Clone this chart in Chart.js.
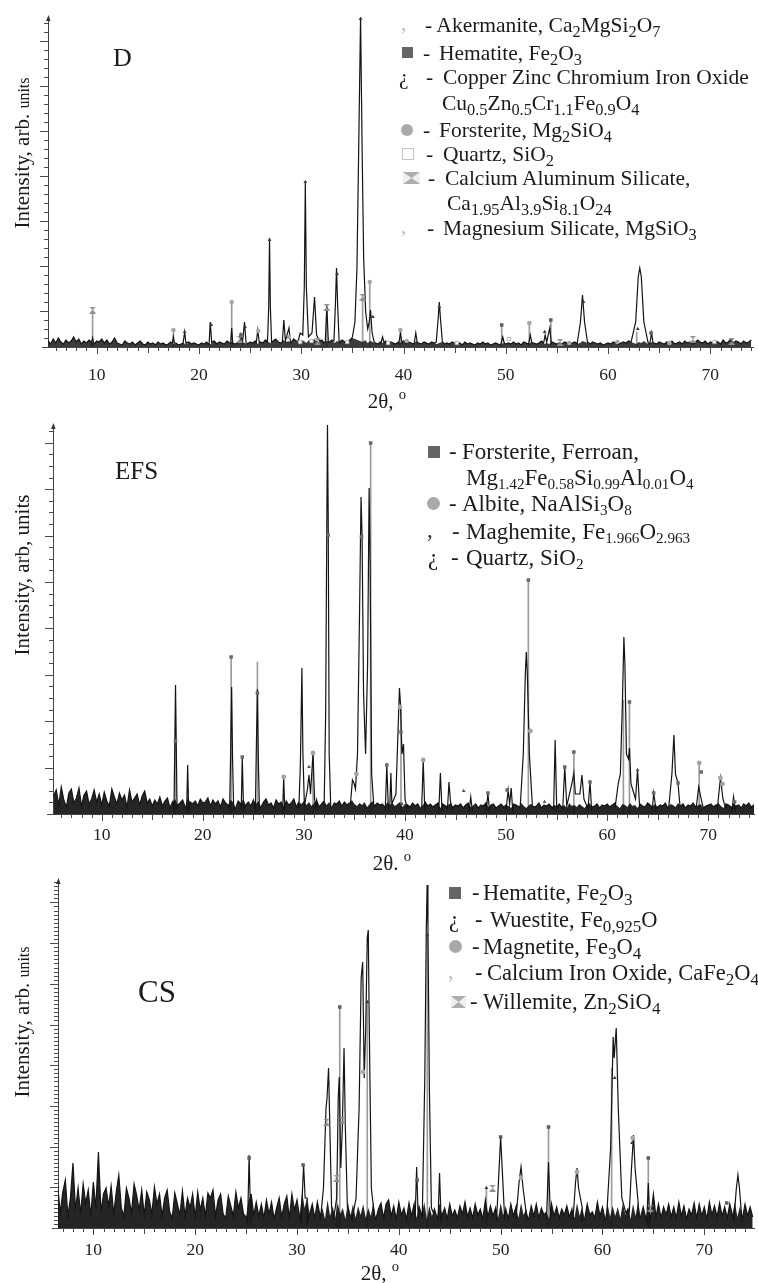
<!DOCTYPE html>
<html>
<head>
<meta charset="utf-8">
<script src="https://cdn.jsdelivr.net/npm/chart.js@4.4.1/dist/chart.umd.min.js"></script>
<style>
body { margin: 0; background: #fff; }
#page { position: relative; width: 758px; height: 1283px; overflow: hidden; font-family: "Liberation Serif", "Times New Roman", serif; color: #1b1b1b; }
canvas { position: absolute; left: 0; }
.r { position: absolute; height: 26px; line-height: 26px; white-space: nowrap; font-size: 21.5px; }
.efs .r { font-size: 23px; }
.cs .r { font-size: 22.5px; }
sub { font-size: 0.76em; vertical-align: -0.28em; line-height: 0; }
.efs sub { font-size: 0.66em; }
sup { font-size: 0.7em; vertical-align: 0.55em; line-height: 0; }
.sq { position: absolute; width: 11px; height: 11px; background: #656565; }
.ci { position: absolute; width: 12px; height: 12px; border-radius: 50%; background: #a9a9a9; }
.os { position: absolute; width: 10px; height: 10px; border: 1px solid #c4c4c4; }
.cm { color: #bdbdbd; }
.lbl { position: absolute; white-space: nowrap; line-height: 1; }
.yt { position: absolute; white-space: nowrap; font-size: 21px; line-height: 1; transform: translate(-50%, -50%) rotate(-90deg); }
.xt { position: absolute; white-space: nowrap; font-size: 21px; line-height: 1; transform: translate(-50%, -50%); }
</style>
</head>
<body>
<div id="page">
  <canvas id="cD" width="758" height="385" style="top:0px"></canvas>
  <canvas id="cE" width="758" height="445" style="top:410px"></canvas>
  <canvas id="cC" width="758" height="417" style="top:866px"></canvas>

  <!-- panel D -->
  <div class="lbl" style="left:113px;top:45px;font-size:26px">D</div>
  <div class="yt" style="left:22px;top:153px">Intensity, arb. <span style="font-size:16px">units</span></div>
  <div class="xt" style="left:387px;top:401px">2θ, <sup>o</sup></div>
  <div class="r cm" style="left:401px;top:10px">,</div>
  <div class="r" style="left:425px;top:12px">- Akermanite, Ca<sub>2</sub>MgSi<sub>2</sub>O<sub>7</sub></div>
  <div class="sq" style="left:402px;top:47px"></div>
  <div class="r" style="left:423px;top:40px">-</div>
  <div class="r" style="left:439px;top:40px">Hematite, Fe<sub>2</sub>O<sub>3</sub></div>
  <div class="r" style="left:399px;top:64px">¿</div>
  <div class="r" style="left:426px;top:64px">-</div>
  <div class="r" style="left:443px;top:64px">Copper Zinc Chromium Iron Oxide</div>
  <div class="r" style="left:442px;top:90px">Cu<sub>0.5</sub>Zn<sub>0.5</sub>Cr<sub>1.1</sub>Fe<sub>0.9</sub>O<sub>4</sub></div>
  <div class="ci" style="left:401px;top:124px"></div>
  <div class="r" style="left:423px;top:117px">-</div>
  <div class="r" style="left:439px;top:117px">Forsterite, Mg<sub>2</sub>SiO<sub>4</sub></div>
  <div class="os" style="left:402px;top:148px"></div>
  <div class="r" style="left:426px;top:141px">-</div>
  <div class="r" style="left:443px;top:141px">Quartz, SiO<sub>2</sub></div>
  <svg style="position:absolute;left:403px;top:172px" width="17" height="12"><path d="M0 0H17L8.5 6ZM0 12H17L8.5 6Z" fill="#9a9a9a"/><rect x="0" y="0" width="17" height="12" fill="#d0d0d0" opacity="0.35"/></svg>
  <div class="r" style="left:428px;top:165px">-</div>
  <div class="r" style="left:445px;top:165px">Calcium Aluminum Silicate,</div>
  <div class="r" style="left:447px;top:190px">Ca<sub>1.95</sub>Al<sub>3.9</sub>Si<sub>8.1</sub>O<sub>24</sub></div>
  <div class="r cm" style="left:401px;top:213px">,</div>
  <div class="r" style="left:427px;top:215px">-</div>
  <div class="r" style="left:443px;top:215px">Magnesium Silicate, MgSiO<sub>3</sub></div>

  <!-- panel EFS -->
  <div class="lbl" style="left:115px;top:458px;font-size:25px">EFS</div>
  <div class="yt" style="left:22px;top:575px">Intensity, arb, units</div>
  <div class="xt" style="left:392px;top:863px">2θ. <sup>o</sup></div>
  <div class="efs">
    <div class="sq" style="left:428px;top:446px;width:12px;height:12px"></div>
    <div class="r" style="left:449px;top:439px">-</div>
    <div class="r" style="left:462px;top:439px">Forsterite, Ferroan,</div>
    <div class="r" style="left:466px;top:465px">Mg<sub>1.42</sub>Fe<sub>0.58</sub>Si<sub>0.99</sub>Al<sub>0.01</sub>O<sub>4</sub></div>
    <div class="ci" style="left:427px;top:497px;width:13px;height:13px"></div>
    <div class="r" style="left:449px;top:491px">-</div>
    <div class="r" style="left:462px;top:491px">Albite, NaAlSi<sub>3</sub>O<sub>8</sub></div>
    <div class="r" style="left:427px;top:517px;color:#333">,</div>
    <div class="r" style="left:452px;top:519px">-</div>
    <div class="r" style="left:466px;top:519px">Maghemite, Fe<sub>1.966</sub>O<sub>2.963</sub></div>
    <div class="r" style="left:428px;top:545px">¿</div>
    <div class="r" style="left:451px;top:545px">-</div>
    <div class="r" style="left:466px;top:545px">Quartz, SiO<sub>2</sub></div>
  </div>

  <!-- panel CS -->
  <div class="lbl" style="left:138px;top:976px;font-size:31px">CS</div>
  <div class="yt" style="left:22px;top:1022px">Intensity, arb. <span style="font-size:16px">units</span></div>
  <div class="xt" style="left:380px;top:1273px">2θ, <sup>o</sup></div>
  <div class="cs">
    <div class="sq" style="left:449px;top:887px;width:12px;height:12px"></div>
    <div class="r" style="left:472px;top:880px">-</div>
    <div class="r" style="left:483px;top:880px">Hematite, Fe<sub>2</sub>O<sub>3</sub></div>
    <div class="r" style="left:449px;top:907px">¿</div>
    <div class="r" style="left:475px;top:907px">-</div>
    <div class="r" style="left:490px;top:907px">Wuestite, Fe<sub>0,925</sub>O</div>
    <div class="ci" style="left:449px;top:940px;width:13px;height:13px"></div>
    <div class="r" style="left:472px;top:934px">-</div>
    <div class="r" style="left:483px;top:934px">Magnetite, Fe<sub>3</sub>O<sub>4</sub></div>
    <div class="r cm" style="left:448px;top:958px">,</div>
    <div class="r" style="left:475px;top:960px">-</div>
    <div class="r" style="left:487px;top:960px">Calcium Iron Oxide, CaFe<sub>2</sub>O<sub>4</sub></div>
    <svg style="position:absolute;left:451px;top:996px" width="15" height="12"><path d="M0 0H15L7.5 6ZM0 12H15L7.5 6Z" fill="#9a9a9a"/><rect x="0" y="0" width="15" height="12" fill="#d0d0d0" opacity="0.35"/></svg>
    <div class="r" style="left:470px;top:989px">-</div>
    <div class="r" style="left:483px;top:989px">Willemite, Zn<sub>2</sub>SiO<sub>4</sub></div>
  </div>
</div>

<script>
// x tick labels shared by all three patterns
const tickLabels = [10, 20, 30, 40, 50, 60, 70];

// ---------- D ----------
const dNoiseStart = 5.25;
const dNoise = [
  6,3,8,4,9,5,3,7,4,6,10,5,8,3,6,4,7,5,3,6,
  5,8,4,7,3,5,9,4,3,2,6,4,3,5,2,4,6,3,2,5,
  3,4,2,5,3,4,2,3,5,3,4,2,3,4,2,5,3,4,3,2,
  4,3,5,2,4,6,3,5,4,3,6,4,5,3,4,6,5,4,3,5,
  4,6,3,5,4,7,5,4,6,8,5,4,7,5,6,4,8,6,5,7,
  6,4,7,5,8,6,5,7,4,6,5,7,4,6,5,7,5,6,8,9,
  8,7,6,5,7,4,6,5,4,3,5,4,6,3,5,4,3,5,4,6,
  3,5,4,3,6,4,3,5,4,3,5,4,3,4,5,3,4,3,5,4,
  3,4,2,5,3,4,3,2,4,3,5,3,4,2,3,4,3,2,4,3,
  4,3,5,3,4,2,5,4,3,5,4,3,4,6,3,4,3,5,4,3,
  4,3,5,4,3,4,5,3,4,6,5,4,3,5,4,3,4,2,3,4,
  3,5,4,3,4,5,4,6,5,4,3,5,4,6,4,3,5,4,3,5,
  4,3,5,4,6,3,4,5,3,6,4,5,3,4,7,5,4,6,3,5,
  4,6,5,3,7,4,5,8,4,6,5,3,6,4,5,7
];
const dPeaks = [
  [[9.5,4],[9.6,9],[9.7,4]],
  [[17.4,4],[17.5,10],[17.6,4]],
  [[18.45,4],[18.6,15],[18.75,4]],
  [[21.0,4],[21.1,25],[21.25,5]],
  [[23.1,4],[23.2,19],[23.3,4]],
  [[24.0,4],[24.1,12],[24.25,4],[24.45,25],[24.6,5]],
  [[25.6,4],[25.75,17],[25.9,4]],
  [[26.7,5],[26.82,40],[26.9,109],[26.98,40],[27.1,5]],
  [[28.15,5],[28.3,27],[28.45,6],[28.8,19],[28.95,5]],
  [[29.7,6],[29.9,14],[30.15,12],[30.3,60],[30.4,165],[30.5,60],[30.7,10],[31.05,14],[31.3,50],[31.5,12],[31.8,6]],
  [[32.35,5],[32.5,41],[32.65,5]],
  [[33.2,6],[33.35,45],[33.45,79],[33.55,45],[33.7,6]],
  [[34.7,5],[35.0,10],[35.25,25],[35.45,80],[35.62,200],[35.8,330],[35.95,200],[36.1,90],[36.3,35],[36.5,18],[36.65,25],[36.78,37],[36.92,15],[37.1,6]],
  [[37.8,4],[37.95,10],[38.1,4]],
  [[39.55,4],[39.7,14],[39.85,4]],
  [[41.05,4],[41.2,14],[41.35,4]],
  [[43.2,5],[43.4,30],[43.5,45],[43.6,30],[43.8,5]],
  [[49.55,4],[49.7,10],[49.85,4]],
  [[52.25,4],[52.4,12],[52.55,4]],
  [[53.7,4],[53.85,12],[54.0,5],[54.3,19],[54.45,4]],
  [[57.0,5],[57.3,25],[57.5,52],[57.7,25],[58.0,5]],
  [[62.3,5],[62.7,25],[62.95,70],[63.1,79],[63.25,70],[63.5,25],[63.9,5]],
  [[64.1,4],[64.25,14],[64.4,4]]
];
const dStickX = [9.6, 17.5, 23.2, 32.5, 36.0, 36.7, 39.7, 49.6, 52.3, 54.4, 62.8];
const dStickY = [37, 17, 45, 40, 50, 65, 17, 22, 24, 27, 15];
const dHemX = [24.1, 49.6, 54.4, 64.2];
const dHemY = [12, 22, 27, 14];
const dCuX = [18.6, 21.2, 24.5, 26.9, 30.4, 33.5, 35.8, 37.0, 43.5, 53.8, 57.6, 62.9];
const dCuY = [15, 22, 20, 107, 165, 73, 328, 30, 40, 15, 45, 18];
const dForX = [17.5, 23.2, 25.8, 28.8, 36.7, 39.7, 40.3, 52.3, 56.2, 60.9, 66.0];
const dForY = [17, 45, 16, 10, 65, 17, 6, 24, 4, 5, 4];
const dQtzX = [29.9, 31.0, 34.5, 38.5, 45.2, 50.3, 70.4];
const dQtzY = [5, 6, 5, 4, 4, 8, 5];
const dCaAlX = [9.6, 24.0, 31.6, 32.5, 36.0, 55.3, 68.3, 72.1];
const dCaAlY = [37, 8, 6, 40, 50, 5, 8, 6];

// ---------- EFS ----------
const eNoiseStart = 5.25;
const eNoise = [
  18,24,9,27,14,7,21,25,11,16,26,8,19,23,10,15,24,12,20,9,
  22,13,8,25,17,10,21,14,19,7,24,12,16,20,9,18,23,11,15,8,
  14,10,17,8,13,16,6,12,15,9,11,14,7,16,12,10,13,8,15,11,
  12,16,8,14,10,13,7,15,11,9,14,12,6,13,10,15,9,12,8,14,
  10,13,7,12,15,9,11,6,14,10,12,8,13,9,11,15,7,12,10,13,
  9,12,8,11,14,7,10,13,9,12,6,11,10,13,8,12,9,11,14,10,
  8,11,9,12,7,10,13,8,11,9,10,7,12,9,11,8,10,12,7,10,
  9,7,11,8,10,6,9,12,8,10,7,9,11,6,10,8,9,11,7,9,
  8,10,6,9,11,7,8,10,6,9,8,11,7,9,10,6,8,10,7,9,
  8,6,10,9,7,11,8,6,9,10,7,8,11,6,9,8,10,7,9,8,
  10,7,9,6,11,8,9,7,10,8,6,9,11,7,8,10,6,9,8,10,
  7,9,11,8,6,10,9,7,11,8,9,6,10,8,7,11,9,8,10,7,
  9,8,11,6,10,9,7,11,8,10,6,9,8,11,7,9,10,6,8,9,
  10,7,9,11,8,6,10,9,7,11,8,9,6,10,8,11,7,9,8,10
];
const ePeaks = [
  [[17.15,5],[17.3,129],[17.45,5]],
  [[18.4,4],[18.5,49],[18.6,4]],
  [[22.65,5],[22.75,60],[22.85,127],[22.95,50],[23.05,5]],
  [[23.8,4],[23.9,57],[24.0,4]],
  [[25.2,5],[25.3,70],[25.4,125],[25.5,50],[25.6,5]],
  [[27.9,4],[28.0,37],[28.1,4]],
  [[29.5,6],[29.65,50],[29.8,146],[29.9,60],[30.05,8],[30.35,25],[30.5,39],[30.65,20],[30.9,61],[31.05,15],[31.2,5]],
  [[32.0,8],[32.15,100],[32.27,300],[32.33,389],[32.4,300],[32.5,60],[32.65,8]],
  [[34.6,10],[34.8,34],[34.95,31],[35.1,25],[35.3,60],[35.5,200],[35.65,317],[35.75,280],[35.9,120],[36.1,60],[36.3,150],[36.45,326],[36.55,250],[36.7,40],[36.9,10]],
  [[38.05,5],[38.2,49],[38.35,5],[38.5,10],[38.6,41],[38.7,10],[39.1,20],[39.3,80],[39.45,126],[39.55,110],[39.7,60],[39.85,70],[40.0,15],[40.2,6]],
  [[41.65,5],[41.8,54],[41.95,5]],
  [[43.35,5],[43.5,41],[43.65,5]],
  [[44.2,5],[44.35,32],[44.5,12],[44.7,5]],
  [[46.35,4],[46.5,17],[46.65,4]],
  [[48.05,4],[48.2,21],[48.35,4]],
  [[50.0,4],[50.2,24],[50.35,10],[50.5,26],[50.65,4]],
  [[51.4,8],[51.7,60],[51.9,140],[52.0,162],[52.1,140],[52.3,60],[52.6,8]],
  [[54.7,5],[54.85,74],[55.0,5]],
  [[55.6,5],[55.8,47],[56.0,8],[56.5,30],[56.7,41],[56.85,20],[57.3,20],[57.5,39],[57.7,15],[58.1,5],[58.3,32],[58.45,5]],
  [[60.8,8],[61.1,31],[61.3,40],[61.5,110],[61.65,177],[61.75,150],[61.9,60],[62.1,55],[62.2,66],[62.35,30],[62.8,15],[63.0,44],[63.2,8]],
  [[64.45,4],[64.6,21],[64.75,4]],
  [[66.1,8],[66.4,40],[66.6,79],[66.75,40],[67.0,31],[67.2,8]],
  [[68.8,6],[69.05,27],[69.3,15],[69.5,6]],
  [[70.9,6],[71.2,36],[71.45,15],[71.7,6]],
  [[72.35,4],[72.5,17],[72.65,4]]
];
const eStickX = [17.3, 22.8, 25.4, 30.9, 36.6, 39.6, 52.2, 56.7, 61.6, 62.2, 69.1];
const eStickY = [73, 157, 152, 61, 371, 107, 234, 62, 114, 112, 51];
const eForX = [17.3, 22.8, 23.9, 25.4, 32.4, 35.7, 36.6, 38.2, 39.6, 48.2, 50.1, 52.2, 55.8, 56.7, 58.3, 62.2, 64.6, 67.0, 69.3, 72.6];
const eForY = [73, 157, 57, 121, 279, 277, 371, 49, 82, 21, 24, 234, 47, 62, 32, 112, 21, 31, 42, 12];
const eAlbX = [28.0, 30.9, 35.2, 39.5, 41.8, 52.4, 69.1, 71.2, 71.4];
const eAlbY = [37, 61, 40, 107, 54, 83, 51, 36, 30];
const eQtzX = [30.5, 39.7, 45.8, 53.8, 63.0];
const eQtzY = [47, 10, 23, 12, 44];

// ---------- CS ----------
const cNoiseStart = 6.5;
const cNoise = [
  42,15,36,48,12,30,65,18,40,14,44,25,38,12,46,20,76,16,34,40,
  22,42,14,36,53,20,12,40,30,15,44,33,18,38,13,36,28,14,41,24,
  34,12,30,38,16,10,35,24,13,37,12,30,20,34,11,36,18,30,12,35,
  30,38,12,28,34,14,10,32,22,12,36,20,30,14,11,28,34,13,26,12,
  24,10,28,14,26,9,20,30,11,24,32,10,34,18,28,12,36,20,30,14,
  24,10,26,13,20,9,28,12,22,10,25,14,20,9,26,12,24,10,22,13,
  24,10,20,12,26,9,19,25,10,24,28,12,22,9,26,13,20,9,25,12,
  24,10,21,13,26,9,22,12,19,10,25,13,20,9,24,12,18,10,22,14,
  26,11,20,10,24,13,19,9,28,11,22,12,20,10,25,13,19,9,24,12,
  21,10,25,13,19,9,22,12,24,10,20,13,16,9,24,12,21,10,19,13,
  22,11,19,10,25,12,21,9,24,13,16,10,26,12,21,9,24,11,22,12,
  21,10,25,13,19,9,24,12,26,11,21,10,22,12,34,11,24,10,21,13,
  24,11,21,10,26,12,22,9,19,13,25,10,24,12,21,9,26,13,22,11,
  25,12,21,10,24,13,26,11,22,10,24,12,21,11
];
const cPeaks = [
  [[25.15,5],[25.3,73],[25.45,5]],
  [[30.4,5],[30.55,40],[30.65,63],[30.8,30],[31.0,5]],
  [[32.3,8],[32.6,40],[32.85,120],[32.95,130],[33.1,160],[33.25,90],[33.4,20],[33.6,10],[33.9,30],[34.05,130],[34.15,151],[34.3,60],[34.45,100],[34.62,180],[34.75,100],[34.95,20],[35.4,8],[35.8,30],[36.1,120],[36.3,250],[36.45,266],[36.6,150],[36.75,200],[36.9,290],[37.0,298],[37.1,200],[37.3,40],[37.6,12]],
  [[41.6,8],[41.75,61],[41.9,10]],
  [[42.3,10],[42.55,150],[42.7,300],[42.78,343],[42.86,300],[43.0,140],[43.2,20],[43.4,15]],
  [[43.85,8],[44.0,55],[44.15,8]],
  [[49.6,8],[49.85,60],[50.0,91],[50.15,60],[50.4,8]],
  [[51.5,8],[51.8,45],[52.0,61],[52.2,40],[52.6,8]],
  [[54.5,8],[54.7,66],[54.9,8]],
  [[57.1,8],[57.35,45],[57.5,60],[57.65,40],[58.0,8]],
  [[60.4,10],[60.8,80],[61.05,191],[61.15,170],[61.35,200],[61.55,120],[61.9,30],[62.3,15]],
  [[62.6,10],[62.85,60],[63.05,93],[63.2,60],[63.5,12]],
  [[64.35,6],[64.5,45],[64.65,6]],
  [[72.9,8],[73.15,40],[73.3,53],[73.45,40],[73.7,8]]
];
const cStickX = [33.9, 34.2, 36.9, 42.8, 48.6, 54.7, 60.9, 64.5];
const cStickY = [50, 221, 226, 293, 40, 101, 160, 70];
const cHemX = [25.3, 30.6, 34.2, 41.8, 50.0, 54.7, 64.5, 72.2];
const cHemY = [70, 63, 221, 48, 91, 101, 70, 25];
const cWueX = [36.9, 42.8, 48.6, 61.2, 62.9];
const cWueY = [226, 293, 40, 150, 85];
const cMagX = [36.5, 52.0, 57.5, 62.95];
const cMagY = [156, 50, 56, 90];
const cWilX = [32.9, 33.9, 34.5, 49.2, 64.7];
const cWilY = [106, 50, 108, 40, 20];

const NOISE_STEP = 0.25;

const noisePoints = (start, noise) => noise.map((v, i) => ({ x: start + i * NOISE_STEP, y: v }));

// measured profile: noise outside the peak windows plus the peak outlines
function buildProfile(start, noise, peaks) {
  const pts = noisePoints(start, noise).filter(pt =>
    !peaks.some(p => pt.x > p[0][0] && pt.x < p[p.length - 1][0]));
  peaks.forEach(p => p.forEach(([x, y]) => pts.push({ x: x, y: y })));
  return pts.sort((a, b) => a.x - b.x);
}

const pairs = (xs, ys) => xs.map((x, i) => ({ x: x, y: ys[i] }));

function hourglass(color) {
  const c = document.createElement('canvas');
  c.width = 7; c.height = 7;
  const g = c.getContext('2d');
  g.fillStyle = color;
  g.beginPath(); g.moveTo(0, 0); g.lineTo(7, 0); g.lineTo(3.5, 3.5); g.closePath(); g.fill();
  g.beginPath(); g.moveTo(0, 7); g.lineTo(7, 7); g.lineTo(3.5, 3.5); g.closePath(); g.fill();
  return c;
}

// minor/major ticks of both axes and the little arrow on top of the y axis
const axisTicks = {
  id: 'axisTicks',
  afterDraw(chart, args, opts) {
    const { ctx, chartArea: a, scales: { x, y } } = chart;
    ctx.save();
    ctx.strokeStyle = '#4a4a4a';
    ctx.lineWidth = 1;
    ctx.beginPath();
    for (let v = Math.ceil(x.min); v <= x.max; v++) {
      const px = Math.round(x.getPixelForValue(v)) + 0.5;
      const len = v % 10 === 0 ? 7 : (v % 5 === 0 ? 6 : 4);
      ctx.moveTo(px, a.bottom);
      ctx.lineTo(px, a.bottom + len);
    }
    for (let i = 1; i * opts.step <= y.max; i++) {
      const py = Math.round(y.getPixelForValue(i * opts.step)) + 0.5;
      const len = i % opts.every === opts.offset ? 8 : 4;
      ctx.moveTo(a.left - len, py);
      ctx.lineTo(a.left, py);
    }
    ctx.moveTo(a.left - 6, a.bottom + 0.5);
    ctx.lineTo(a.left, a.bottom + 0.5);
    ctx.stroke();
    ctx.fillStyle = '#333';
    ctx.beginPath();
    ctx.moveTo(a.left - 2, a.top + 4);
    ctx.lineTo(a.left + 2.5, a.top + 4);
    ctx.lineTo(a.left + 0.5, a.top - 2);
    ctx.closePath();
    ctx.fill();
    ctx.restore();
  }
};

function makeChart(id, p) {
  const datasets = p.marks.map(m => ({
    type: 'scatter',
    data: pairs(m.x, m.y),
    pointStyle: m.style,
    pointRadius: m.r,
    backgroundColor: m.fill,
    borderColor: m.line,
    borderWidth: m.bw
  }));
  datasets.push({
    type: 'line',
    data: buildProfile(p.noiseStart, p.noise, p.peaks),
    borderColor: '#141414',
    borderWidth: 1.2,
    pointRadius: 0,
    tension: 0,
    fill: false
  });
  // dense background band under the noisy baseline
  datasets.push({
    type: 'line',
    data: noisePoints(p.noiseStart, p.noise),
    borderWidth: 0,
    borderColor: 'rgba(0,0,0,0)',
    backgroundColor: p.fillColor,
    pointRadius: 0,
    tension: 0,
    fill: 'origin'
  });
  datasets.push({
    type: 'bar',
    data: pairs(p.stickX, p.stickY),
    backgroundColor: '#9b9b9b',
    barThickness: 1,
    grouped: false
  });

  return new Chart(document.getElementById(id), {
    type: 'line',
    data: { datasets: datasets },
    options: {
      responsive: false,
      animation: false,
      events: [],
      layout: { padding: { top: p.padTop, right: 0, bottom: 0, left: 0 } },
      plugins: { legend: { display: false }, tooltip: { enabled: false }, axisTicks: p.ticks },
      scales: {
        x: {
          type: 'linear',
          min: p.xMin,
          max: p.xMax,
          offset: false,
          grid: { display: false, drawTicks: false },
          border: { color: '#444', width: 1 },
          ticks: {
            padding: p.labelPad,
            color: '#222',
            maxRotation: 0,
            font: { family: 'Liberation Serif', size: 17.5 }
          },
          afterBuildTicks: s => { s.ticks = tickLabels.map(v => ({ value: v })); },
          afterFit: s => { s.height = p.xHeight; }
        },
        y: {
          type: 'linear',
          min: 0,
          max: p.yMax,
          grid: { display: false, drawTicks: false },
          border: { color: '#444', width: 1 },
          ticks: { display: false },
          afterFit: s => { s.width = p.yWidth; }
        }
      }
    },
    plugins: [axisTicks]
  });
}

const hg = hourglass('#8e8e8e');

makeChart('cD', {
  padTop: 17, yWidth: 48, xHeight: 38, xMin: 5.24, xMax: 74.17, yMax: 330, labelPad: 18,
  ticks: { step: 9, every: 5, offset: 4 }, fillColor: 'rgba(25,25,25,0.85)',
  noiseStart: dNoiseStart, noise: dNoise, peaks: dPeaks, stickX: dStickX, stickY: dStickY,
  marks: [
    { x: dHemX, y: dHemY, style: 'rect', r: 2.5, fill: '#5f5f5f', line: '#5f5f5f', bw: 0 },
    { x: dCuX, y: dCuY, style: 'triangle', r: 2.2, fill: '#3a3a3a', line: '#3a3a3a', bw: 0 },
    { x: dForX, y: dForY, style: 'circle', r: 2.3, fill: '#a8a8a8', line: '#a8a8a8', bw: 0 },
    { x: dQtzX, y: dQtzY, style: 'rect', r: 2.3, fill: '#ffffff', line: '#b5b5b5', bw: 1 },
    { x: dCaAlX, y: dCaAlY, style: hg, r: 3, fill: '#8e8e8e', line: '#8e8e8e', bw: 0 }
  ]
});

makeChart('cE', {
  padTop: 15, yWidth: 53, xHeight: 41, xMin: 5.18, xMax: 74.52, yMax: 389, labelPad: 11,
  ticks: { step: 11.6, every: 4, offset: 0 }, fillColor: 'rgba(18,18,18,0.92)',
  noiseStart: eNoiseStart, noise: eNoise, peaks: ePeaks, stickX: eStickX, stickY: eStickY,
  marks: [
    { x: eForX, y: eForY, style: 'rect', r: 2.5, fill: '#6a6a6a', line: '#6a6a6a', bw: 0 },
    { x: eAlbX, y: eAlbY, style: 'circle', r: 2.4, fill: '#a4a4a4', line: '#a4a4a4', bw: 0 },
    { x: eQtzX, y: eQtzY, style: 'triangle', r: 2.2, fill: '#555555', line: '#555555', bw: 0 }
  ]
});

makeChart('cC', {
  padTop: 14, yWidth: 58, xHeight: 55, xMin: 6.53, xMax: 74.88, yMax: 348, labelPad: 12,
  ticks: { step: 4.07, every: 10, offset: 0 }, fillColor: 'rgba(18,18,18,0.92)',
  noiseStart: cNoiseStart, noise: cNoise, peaks: cPeaks, stickX: cStickX, stickY: cStickY,
  marks: [
    { x: cHemX, y: cHemY, style: 'rect', r: 2.5, fill: '#5f5f5f', line: '#5f5f5f', bw: 0 },
    { x: cWueX, y: cWueY, style: 'triangle', r: 2.2, fill: '#3a3a3a', line: '#3a3a3a', bw: 0 },
    { x: cMagX, y: cMagY, style: 'circle', r: 2.4, fill: '#a8a8a8', line: '#a8a8a8', bw: 0 },
    { x: cWilX, y: cWilY, style: hg, r: 3, fill: '#8e8e8e', line: '#8e8e8e', bw: 0 }
  ]
});
</script>
</body>
</html>
